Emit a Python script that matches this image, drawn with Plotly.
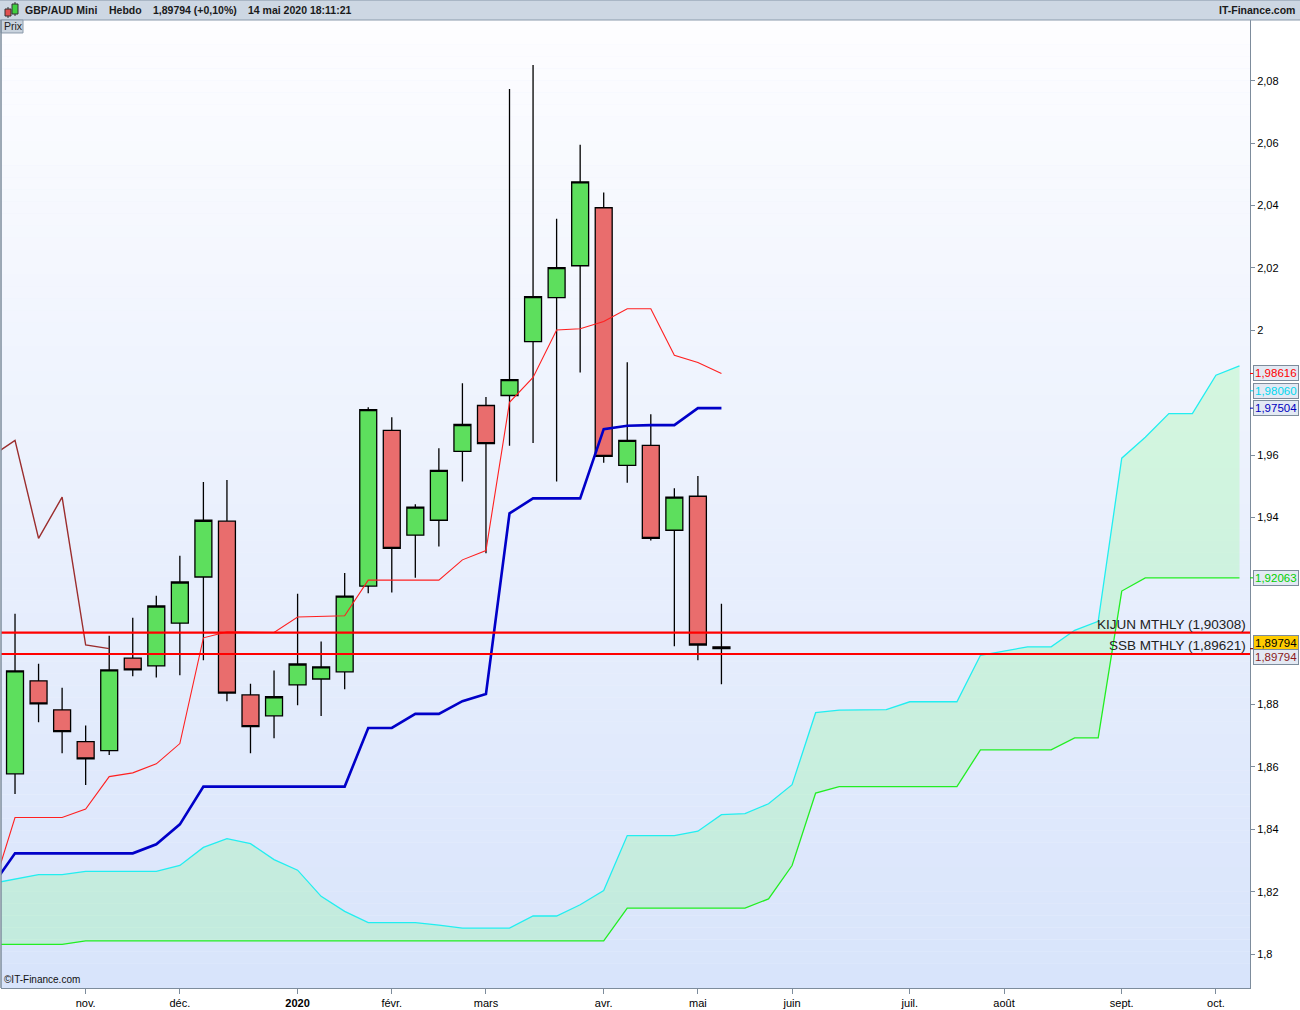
import pandas as pd
import plotly.graph_objects as go

# weekly candles GBP/AUD, from the week of 14 Oct 2019 to the week of 11 May 2020
candle_dates = pd.date_range("2019-10-14", periods=31, freq="W-MON")
opens = [1.8578, 1.8876, 1.8783, 1.8681, 1.8652, 1.8949, 1.8924, 1.9061, 1.9209, 1.9388,
         1.8831, 1.8764, 1.8863, 1.8882, 1.8905, 1.9180, 1.9679, 1.9343, 1.9391, 1.9612,
         1.9759, 1.9791, 1.9964, 2.0105, 2.0207, 2.0393, 1.9567, 1.9631, 1.9359, 1.9468, 1.8985]
highs = [1.9091, 1.8931, 1.8854, 1.8733, 1.9021, 1.9078, 1.9149, 1.9277, 1.9514, 1.9520,
         1.8867, 1.8909, 1.9155, 1.9002, 1.9222, 1.9753, 1.9721, 1.9442, 1.9622, 1.9830,
         1.9786, 2.0774, 2.0851, 2.0358, 2.0595, 2.0442, 1.9898, 1.9731, 1.9494, 1.9533, 1.9123]
lows = [1.8513, 1.8743, 1.8644, 1.8542, 1.8638, 1.8891, 1.8887, 1.8894, 1.8942, 1.8811,
        1.8644, 1.8692, 1.8798, 1.8763, 1.8849, 1.9157, 1.9159, 1.9207, 1.9307, 1.9515,
        1.9285, 1.9630, 1.9639, 1.9515, 1.9865, 1.9575, 1.9511, 1.9326, 1.8987, 1.8942, 1.8865]
closes = [1.8908, 1.8802, 1.8713, 1.8626, 1.8911, 1.8911, 1.9116, 1.9193, 1.9391, 1.8837,
          1.8729, 1.8825, 1.8930, 1.8921, 1.9148, 1.9746, 1.9301, 1.9433, 1.9551, 1.9698,
          1.9637, 1.9842, 2.0108, 2.0201, 2.0476, 1.9596, 1.9647, 1.9333, 1.9465, 1.8991, 1.89794]

# ichimoku lines start one week before the first visible candle
line_dates = pd.date_range("2019-10-07", periods=32, freq="W-MON")
tenkan = [1.8195, 1.8438, 1.8438, 1.8438, 1.8465, 1.8569, 1.8581, 1.8610, 1.8675, 1.9014,
          1.9033, 1.9031, 1.9031, 1.9081, 1.9083, 1.9085, 1.9199, 1.9199, 1.9199, 1.9199,
          1.9264, 1.9294, 1.9769, 1.9849, 2.0001, 2.0005, 2.0028, 2.0069, 2.0069, 1.9920,
          1.9897, 1.98616]
kijun = [1.8216, 1.8323, 1.8323, 1.8323, 1.8323, 1.8323, 1.8323, 1.8352, 1.8416, 1.8537,
         1.8537, 1.8537, 1.8537, 1.8537, 1.8537, 1.8537, 1.8725, 1.8725, 1.8770, 1.8770,
         1.8811, 1.8834, 1.9413, 1.9461, 1.9461, 1.9461, 1.9683, 1.9694, 1.9696, 1.9696,
         1.97504, 1.97504]

# cloud, projected forward until Oct 2020
cloud_dates = pd.date_range("2019-10-07", periods=54, freq="W-MON")
senkou_a = [1.8226, 1.8241, 1.8255, 1.8255, 1.8265, 1.8265, 1.8265, 1.8265, 1.8284, 1.8342,
            1.8370, 1.8354, 1.8303, 1.8269, 1.8185, 1.8137, 1.8101, 1.8101, 1.8101, 1.8093,
            1.8083, 1.8083, 1.8083, 1.8122, 1.8122, 1.8158, 1.8204, 1.8380, 1.8380, 1.8380,
            1.8394, 1.8447, 1.8450, 1.8482, 1.8543, 1.8774, 1.8782, 1.8782, 1.8784, 1.8809,
            1.8809, 1.8809, 1.8958, 1.8972, 1.8985, 1.8985, 1.9038, 1.9067, 1.9590, 1.9657,
            1.9733, 1.9733, 1.9856, 1.9886]
senkou_b = [1.8031, 1.8031, 1.8031, 1.8031, 1.8042, 1.8042, 1.8042, 1.8042, 1.8042, 1.8042,
            1.8042, 1.8042, 1.8042, 1.8042, 1.8042, 1.8042, 1.8042, 1.8042, 1.8042, 1.8042,
            1.8042, 1.8042, 1.8042, 1.8042, 1.8042, 1.8042, 1.8042, 1.8147, 1.8147, 1.8147,
            1.8147, 1.8147, 1.8147, 1.8177, 1.8284, 1.8516, 1.8537, 1.8537, 1.8537, 1.8537,
            1.8537, 1.8537, 1.8655, 1.8655, 1.8655, 1.8655, 1.8693, 1.8693, 1.9164, 1.92063,
            1.92063, 1.92063, 1.92063, 1.92063]

# chikou = last closes shown 26 weeks back
chikou_dates = line_dates[:6]
chikou = closes[25:]

# monthly levels
level_names = ["KIJUN MTHLY (1,90308)", "SSB MTHLY (1,89621)"]
level_values = [1.90308, 1.89621]

# last value boxes on the price axis
last_texts = ["1,98616", "1,98060", "1,97504", "1,92063", "1,89794", "1,89794"]
last_values = [1.98616, 1.98060, 1.97504, 1.92063, 1.89794, 1.89794]
last_colors = ["#ff0000", "#00d8f0", "#0000c0", "#00d000", "#000000", "#8b1a1a"]

# price ticks (1,98 / 1,92 / 1,9 are hidden behind the value boxes)
y_ticks = [1.80, 1.82, 1.84, 1.86, 1.88, 1.94, 1.96, 2.00, 2.02, 2.04, 2.06, 2.08]

month_ticks = ["2019-11-04", "2019-12-02", "2020-01-06", "2020-02-03", "2020-03-02", "2020-04-06",
               "2020-05-04", "2020-06-01", "2020-07-06", "2020-08-03", "2020-09-07", "2020-10-05"]
month_labels = ["nov.", "déc.", "<b>2020</b>", "févr.", "mars", "avr.",
                "mai", "juin", "juil.", "août", "sept.", "oct."]

FONT = "Liberation Sans"

fig = go.Figure()

fig.add_trace(go.Scatter(x=cloud_dates, y=senkou_b, mode="lines",
                         line=dict(color="#22ee22", width=1.3), hoverinfo="skip"))
fig.add_trace(go.Scatter(x=cloud_dates, y=senkou_a, mode="lines", fill="tonexty",
                         fillcolor="rgba(120,255,127,0.23)",
                         line=dict(color="#22eef0", width=1.3), hoverinfo="skip"))

fig.add_trace(go.Candlestick(x=candle_dates, open=opens, high=highs, low=lows, close=closes,
                             increasing=dict(fillcolor="#5ddf5d", line=dict(color="black", width=1.3)),
                             decreasing=dict(fillcolor="#e96d6d", line=dict(color="black", width=1.3)),
                             whiskerwidth=0))

fig.add_trace(go.Scatter(x=chikou_dates, y=chikou, mode="lines",
                         line=dict(color="#9b2d2d", width=1.4), hoverinfo="skip"))
fig.add_trace(go.Scatter(x=line_dates, y=tenkan, mode="lines",
                         line=dict(color="#ff2020", width=1.1), hoverinfo="skip"))
fig.add_trace(go.Scatter(x=line_dates, y=kijun, mode="lines",
                         line=dict(color="#0000c8", width=2.6), hoverinfo="skip"))

# background gradient of the plot area
n_bands = 80
for k in range(n_bands):
    t = k / (n_bands - 1)
    r = round(253 + (216 - 253) * t)
    g = round(253 + (228 - 253) * t)
    b = round(255 + (251 - 255) * t)
    fig.add_shape(type="rect", xref="paper", yref="paper", x0=0, x1=1,
                  y0=1 - (k + 1) / n_bands, y1=1 - k / n_bands,
                  fillcolor=f"rgb({r},{g},{b})", line_width=0, layer="below")

for name, val in zip(level_names, level_values):
    fig.add_shape(type="line", xref="paper", x0=0, x1=1, y0=val, y1=val,
                  line=dict(color="#ff0000", width=2.2), layer="above")
    fig.add_annotation(text=name, xref="paper", x=1, y=val, xanchor="right", yanchor="bottom",
                       xshift=-2, yshift=-1, showarrow=False,
                       font=dict(family=FONT, size=13.5, color="#222222"))

shifts = [0, 0, 0, 0, 6, -8]
for txt, val, col, sh in zip(last_texts, last_values, last_colors, shifts):
    bg = "#ffcc00" if col == "#000000" else "#e3e9f3"
    fig.add_annotation(text=txt, xref="paper", x=1, y=val, xanchor="left", yanchor="middle",
                       xshift=3, yshift=sh, showarrow=False, bgcolor=bg,
                       bordercolor="#7d8c9c", borderwidth=1, borderpad=1,
                       font=dict(family=FONT, size=11.5, color=col))
    fig.add_shape(type="line", xref="paper", x0=1, x1=1 + 3 / 1249, y0=val, y1=val,
                  line=dict(color=col, width=1))

# title bar
fig.add_shape(type="rect", xref="paper", yref="paper", x0=-0.002, x1=1.041,
              y0=1, y1=1 + 20 / 970, fillcolor="#cdd7e3", line=dict(color="#8a9aab", width=1))
fig.add_shape(type="rect", xref="paper", yref="paper", x0=0, x1=22 / 1249,
              y0=1 - 13 / 970, y1=1, fillcolor="#c9d3de", line=dict(color="#8a9aab", width=1))
fig.add_shape(type="line", xref="paper", yref="paper", x0=0, x1=0, y0=0, y1=1,
              line=dict(color="#7d8c9c", width=1.5))
# small candle icon
fig.add_shape(type="line", xref="paper", yref="paper", x0=7 / 1249, x1=7 / 1249,
              y0=1 + 2 / 970, y1=1 + 13 / 970, line=dict(color="#333", width=1))
fig.add_shape(type="rect", xref="paper", yref="paper", x0=4 / 1249, x1=10 / 1249,
              y0=1 + 4 / 970, y1=1 + 11 / 970, fillcolor="#e05050", line=dict(color="#333", width=1))
fig.add_shape(type="line", xref="paper", yref="paper", x0=14 / 1249, x1=14 / 1249,
              y0=1 + 4 / 970, y1=1 + 18 / 970, line=dict(color="#333", width=1))
fig.add_shape(type="rect", xref="paper", yref="paper", x0=11 / 1249, x1=17 / 1249,
              y0=1 + 6 / 970, y1=1 + 16 / 970, fillcolor="#40d040", line=dict(color="#333", width=1))

title_parts = ["GBP/AUD Mini", "Hebdo", "1,89794 (+0,10%)", "14 mai 2020 18:11:21"]
title_x = [22, 106, 150, 245]
for part, px in zip(title_parts, title_x):
    fig.add_annotation(text=f"<b>{part}</b>", xref="paper", yref="paper", x=0, xshift=px,
                       y=1 + 10 / 970, xanchor="left", yanchor="middle", showarrow=False,
                       font=dict(family=FONT, size=10.5, color="#1a1a1a"))
fig.add_annotation(text="<b>IT-Finance.com</b>", xref="paper", yref="paper", x=1, xshift=47,
                   y=1 + 10 / 970, xanchor="right", yanchor="middle", showarrow=False,
                   font=dict(family=FONT, size=10.5, color="#1a1a1a"))
fig.add_annotation(text="Prix", xref="paper", yref="paper", x=0, xshift=1, y=1 - 6.5 / 970,
                   xanchor="left", yanchor="middle", showarrow=False,
                   font=dict(family=FONT, size=10.5, color="#222"))
fig.add_annotation(text="©IT-Finance.com", xref="paper", yref="paper", x=0, xshift=1, y=0,
                   yshift=1, xanchor="left", yanchor="bottom", showarrow=False,
                   font=dict(family=FONT, size=10, color="#111"))

fig.update_layout(
    width=1300, height=1010,
    margin=dict(l=1, r=50, t=20, b=20),
    paper_bgcolor="white", plot_bgcolor="#eef2fd",
    showlegend=False, separators=", ",
    boxgap=0.28, boxgroupgap=0,
    font=dict(family=FONT, size=11, color="black"),
    xaxis=dict(type="date", range=["2019-10-09 20:00", "2020-10-15 03:00"],
               rangeslider=dict(visible=False), showgrid=False, zeroline=False,
               tickvals=month_ticks, ticktext=month_labels, ticks="outside", ticklen=5,
               tickcolor="#7d8c9c", showline=True, linecolor="#7d8c9c", linewidth=1,
               tickfont=dict(family=FONT, size=11, color="black")),
    yaxis=dict(side="right", range=[1.78912, 2.0995], showgrid=False, zeroline=False,
               tickvals=y_ticks, tickformat="~g", ticks="outside", ticklen=4,
               tickcolor="#7d8c9c", showline=True, linecolor="#7d8c9c", linewidth=1,
               tickfont=dict(family=FONT, size=11, color="black")),
)

fig.write_html("out.html", config={"displayModeBar": False},
               post_script="document.body.style.margin='0px';")
